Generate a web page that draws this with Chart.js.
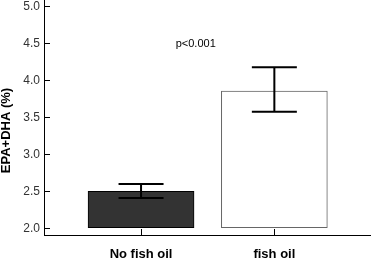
<!DOCTYPE html>
<html>
<head>
<meta charset="utf-8">
<script src="https://cdn.jsdelivr.net/npm/chart.js@4.4.0/dist/chart.umd.min.js"></script>
<style>
html, body { margin: 0; padding: 0; background: #fff; }
#wrap { width: 371px; height: 262px; }
</style>
</head>
<body>
<div id="wrap"><canvas id="chart"></canvas></div>
<script>
// values
var groups = ['No fish oil', 'fish oil'];
var groupPos = [0, 1];
var means = [2.50, 3.86];
var errLow = [2.41, 3.58];
var errHigh = [2.60, 4.18];
var barBase = 2.0;
var yTicks = [2.0, 2.5, 3.0, 3.5, 4.0, 4.5, 5.0];
var pText = 'p<0.001';
var yTitle = 'EPA+DHA (%)';

var FONT = '"Liberation Sans", Arial, sans-serif';

var errorBars = {
    id: 'errorBars',
    afterDatasetsDraw: function (chart) {
        var ctx = chart.ctx;
        var xs = chart.scales.x, ys = chart.scales.y;
        ctx.save();
        ctx.strokeStyle = '#000';
        ctx.lineWidth = 2;
        for (var i = 0; i < groups.length; i++) {
            var x = xs.getPixelForValue(groupPos[i]);
            var y1 = ys.getPixelForValue(errLow[i]);
            var y2 = ys.getPixelForValue(errHigh[i]);
            ctx.beginPath();
            ctx.moveTo(x, y1); ctx.lineTo(x, y2);
            ctx.moveTo(x - 22.5, y1); ctx.lineTo(x + 22.5, y1);
            ctx.moveTo(x - 22.5, y2); ctx.lineTo(x + 22.5, y2);
            ctx.stroke();
        }
        // p value note
        ctx.fillStyle = '#000';
        ctx.font = '11px ' + FONT;
        ctx.textAlign = 'left';
        ctx.textBaseline = 'middle';
        ctx.fillText(pText, xs.getPixelForValue(0.26), ys.getPixelForValue(4.5));
        // y axis title
        ctx.translate(10, 130.5);
        ctx.rotate(-Math.PI / 2);
        ctx.font = 'bold 13px ' + FONT;
        ctx.textAlign = 'center';
        ctx.textBaseline = 'alphabetic';
        ctx.fillText(yTitle, 0, 0);
        ctx.restore();
    }
};

var ctx = document.getElementById('chart').getContext('2d');
var chart = new Chart(ctx, {
    type: 'bar',
    data: {
        datasets: [{
            data: groupPos.map(function (p, i) { return { x: p, y: means[i] }; }),
            base: barBase,
            backgroundColor: ['#333333', '#ffffff'],
            borderColor: ['#000000', '#666666'],
            borderWidth: 1,
            borderSkipped: false,
            barThickness: 106
        }]
    },
    options: {
        responsive: true,
        maintainAspectRatio: false,
        animation: false,
        layout: { padding: 0 },
        plugins: { legend: { display: false }, tooltip: { enabled: false } },
        scales: {
            x: {
                type: 'linear',
                min: -0.728,
                max: 1.725,
                offset: false,
                afterBuildTicks: function (s) { s.ticks = groupPos.map(function (v) { return { value: v }; }); },
                afterFit: function (s) { s.height = 27; s.paddingLeft = 0; s.paddingRight = 0; },
                ticks: {
                    autoSkip: false,
                    maxRotation: 0,
                    padding: 18,
                    color: '#000',
                    font: { family: FONT, size: 13, weight: 'bold' },
                    callback: function (v, i) { return groups[i]; }
                },
                grid: { offset: false, drawOnChartArea: false, tickLength: -6, color: '#000', lineWidth: 1 },
                border: { color: '#000', width: 1 }
            },
            y: {
                min: 1.909,
                max: 5.092,
                beginAtZero: false,
                afterBuildTicks: function (s) { s.ticks = yTicks.map(function (v) { return { value: v }; }); },
                afterFit: function (s) { s.width = 44; s.paddingTop = 0; s.paddingBottom = 0; },
                ticks: {
                    padding: 10,
                    color: '#333',
                    font: { family: FONT, size: 12 },
                    callback: function (v) { return v.toFixed(1); }
                },
                grid: { drawOnChartArea: false, tickLength: -6, color: '#000', lineWidth: 1 },
                border: { color: '#000', width: 1 }
            }
        }
    },
    plugins: [errorBars]
});
</script>
</body>
</html>
